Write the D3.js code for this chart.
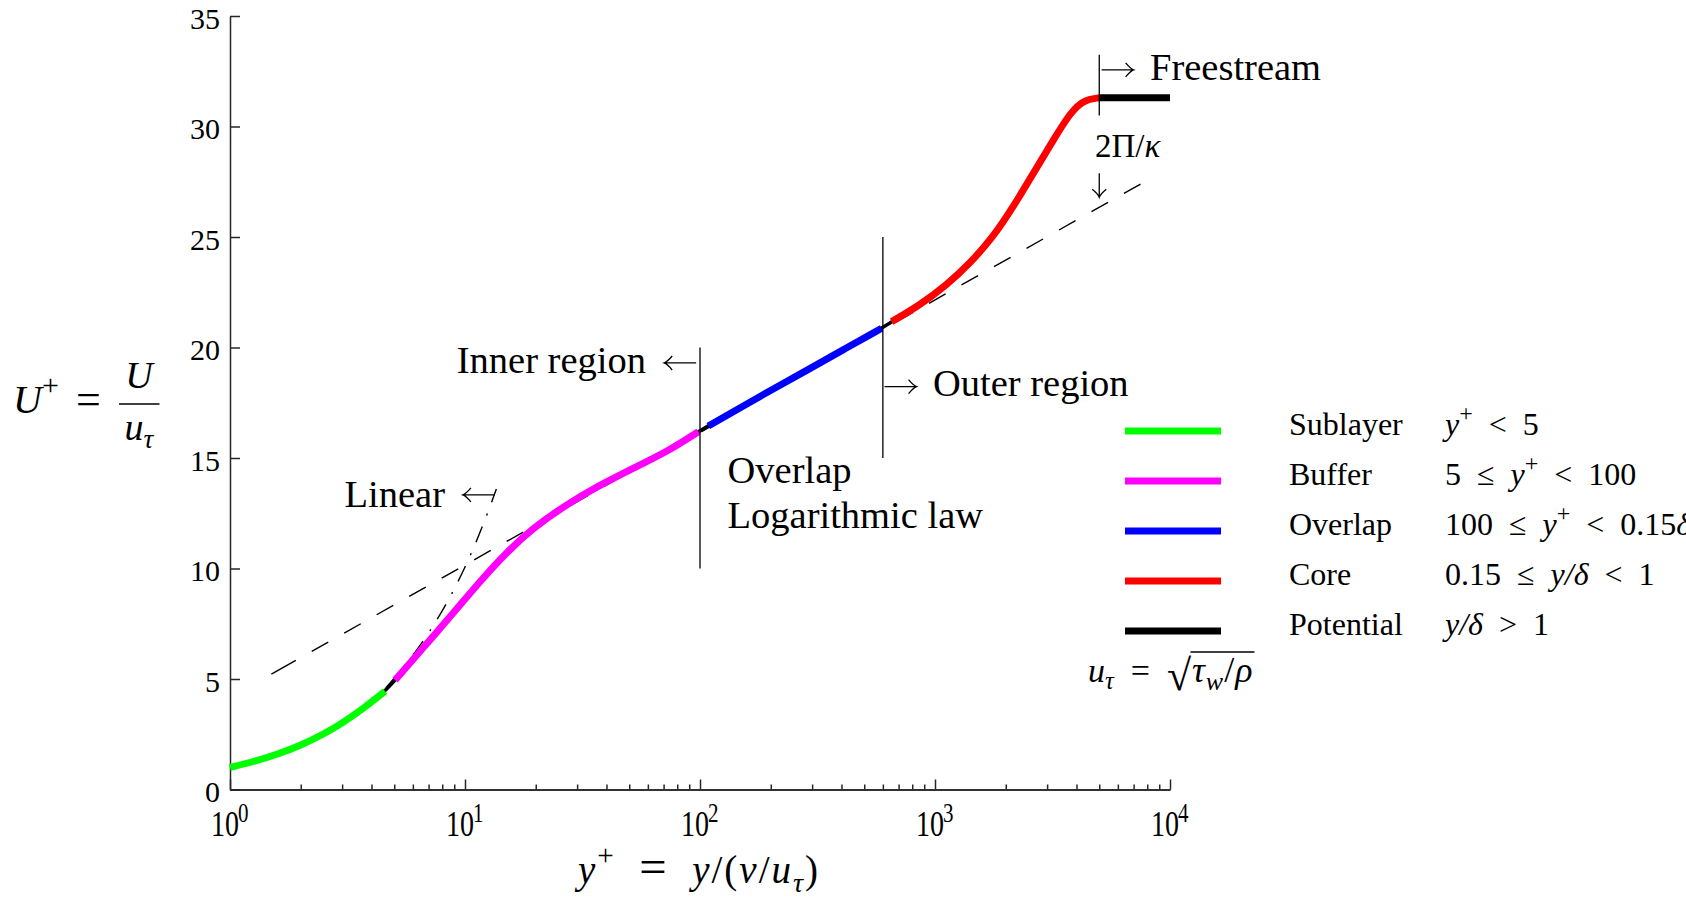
<!DOCTYPE html>
<html>
<head>
<meta charset="utf-8">
<script src="https://cdn.jsdelivr.net/npm/d3@7"></script>
<style>
  html, body { margin: 0; padding: 0; background: #fff; }
  svg { display: block; }
  text { font-family: "Liberation Serif", "Times New Roman", serif; fill: #000; }
</style>
</head>
<body>
<svg id="chart" width="1686" height="897"></svg>
<script>
// Mean velocity profile of a turbulent boundary layer, split by region: [y+, U+]
const sublayer = [[1.0, 1.0], [1.3, 1.3], [1.6, 1.6], [2.0, 2.0], [2.5, 2.5], [3.0, 3.0], [3.7, 3.67], [4.57, 4.45]];
const buffer = [[5.04, 4.95], [6.65, 6.42], [8.92, 7.98], [11.58, 9.42], [15.04, 10.74], [19.54, 11.84],
                [26.2, 12.8], [36.3, 13.7], [53.8, 14.61], [74.5, 15.36], [98.4, 16.19]];
const overlap = [[108.5, 16.45], [148, 17.27], [205, 18.13], [284, 18.96], [407, 19.9], [593, 20.87]];
const core = [[654, 21.17], [863, 21.92], [1121, 22.83], [1409, 23.81], [1771, 25.01], [2154, 26.37],
              [2620, 27.88], [3187, 29.39], [3751, 30.6], [4274, 31.2], [5000, 31.3]];
const potential = [[5000, 31.3], [10000, 31.3]];

// Reference laws
const logLaw = [[1.5, 5.22], [7500, 27.4]];
const linearLaw = [[4.6, 4.6], [6, 6], [8, 8], [10, 10], [12, 12], [13.6, 13.6]];

// Region boundaries: vertical markers at y+ from U+ y0 to y1
const regionLines = [{x: 100, y0: 10, y1: 20}, {x: 600, y0: 15, y1: 25}, {x: 5000, y0: 30.5, y1: 33.25}];

// Tick values
const yTicks = [0, 5, 10, 15, 20, 25, 30, 35];
const xMajorExp = [0, 1, 2, 3, 4];

// Legend
const legendNames = ["Sublayer", "Buffer", "Overlap", "Core", "Potential"];
const legendColors = ["#00ff00", "#ff00ff", "#0000ff", "#ff0000", "#000000"];
const sp = "\u2002"; // wider space around relations
const nb = "\u00a0";
const legendConditions = [
  [["y", "i"], ["+", "sup"], [sp + "<" + sp + "5"]],
  [["5" + sp + "≤" + sp], ["y", "i"], ["+", "sup"], [sp + "<" + sp + "100"]],
  [["100" + sp + "≤" + sp], ["y", "i"], ["+", "sup"], [sp + "<" + sp + "0.15"], ["δ", "i"], ["+", "sup"]],
  [["0.15" + sp + "≤" + sp], ["y/δ", "i"], [sp + "<" + sp + "1"]],
  [["y/δ", "i"], [sp + ">" + sp + "1"]]
];

// Annotation labels (data coordinates of the text anchor)
const annotations = [
  {text: "Inner region", x: 58.9, y: 18.83, anchor: "end"},
  {text: "Outer region", x: 980, y: 17.8, anchor: "start"},
  {text: "Overlap", x: 131, y: 13.86, anchor: "start"},
  {text: "Logarithmic law", x: 131, y: 11.83, anchor: "start"},
  {text: "Linear", x: 8.22, y: 12.8, anchor: "end"},
  {text: "Freestream", x: 8222, y: 32.1, anchor: "start"}
];
// Arrows: tail position in data coordinates, direction, length in px
const arrows = [
  {x: 96.3, y: 19.3, dir: "left", len: 32},
  {x: 610, y: 18.23, dir: "right", len: 32},
  {x: 13.4, y: 13.33, dir: "left", len: 32},
  {x: 5119, y: 32.56, dir: "right", len: 32},
  {x: 5000, y: 27.88, dir: "down", len: 24}
];

const svg = d3.select("#chart");
const x = d3.scaleLog().domain([1, 1e4]).range([230, 1170]);
const y = d3.scaleLinear().domain([0, 35]).range([789.5, 16]);

// helper for math-like text with italic, superscript and subscript parts
function rich(parent, px, py, parts, size, anchor, spacing) {
  const t = parent.append("text").attr("x", px).attr("y", py)
    .attr("font-size", size).attr("text-anchor", anchor || "start");
  if (spacing) t.attr("letter-spacing", spacing);
  let shift = 0;
  parts.forEach(([str, kind]) => {
    kind = kind || "";
    let target = 0, fs = size;
    if (kind === "sup") { target = -0.45 * size; fs = 0.75 * size; }
    if (kind === "isub") { target = 0.22 * size; fs = 0.72 * size; }
    if (kind === "big") { fs = 1.25 * size; }
    const ts = t.append("tspan").text(str).attr("font-size", fs).attr("dy", target - shift);
    if (kind === "i" || kind === "isub") ts.attr("font-style", "italic");
    shift = target;
  });
  return t;
}

// ---- Axes ----
const axisColor = "#262626";
const gy = svg.append("g").attr("transform", "translate(230,0)")
  .call(d3.axisLeft(y).tickValues(yTicks).tickSizeInner(-10).tickSizeOuter(0).tickPadding(10));
gy.selectAll("path,line").attr("stroke", axisColor).attr("stroke-width", 1.5);
gy.selectAll("text").attr("font-size", 30).attr("font-family", "Liberation Serif").attr("fill", "#000").attr("dy", "0.4em");

const minorTicks = [];
for (let e = 0; e < 4; e++) for (let m = 2; m <= 9; m++) minorTicks.push(m * Math.pow(10, e));
const gxMinor = svg.append("g").attr("transform", "translate(0,789.5)")
  .call(d3.axisBottom(x).tickValues(minorTicks).tickSizeInner(-5).tickSizeOuter(0).tickFormat(""));
gxMinor.selectAll("path,line").attr("stroke", axisColor).attr("stroke-width", 1.5);
const gx = svg.append("g").attr("transform", "translate(0,789.5)")
  .call(d3.axisBottom(x).tickValues(xMajorExp.map(e => Math.pow(10, e))).tickSizeInner(-10).tickSizeOuter(0).tickFormat(""));
gx.selectAll("path,line").attr("stroke", axisColor).attr("stroke-width", 1.5);

// x tick labels 10^n
xMajorExp.forEach(e => {
  const cx = x(Math.pow(10, e));
  const g = svg.append("g").attr("transform", `translate(${cx - 19},836) scale(1,1.28)`);
  g.append("text").attr("x", 0).attr("y", 0).attr("font-size", 28).text("10");
  g.append("text").attr("x", 27).attr("y", -11).attr("font-size", 21).text(String(e));
});

// ---- Axis titles ----
const yt = svg.append("g");
rich(yt, 13, 413, [["U", "i"], ["+", "sup"]], 40);
yt.append("text").attr("x", 76).attr("y", 414).attr("font-size", 44).text("=");
rich(yt, 139, 388, [["U", "i"]], 38, "middle");
yt.append("line").attr("x1", 119).attr("x2", 159.5).attr("y1", 404).attr("y2", 404)
  .attr("stroke", "#000").attr("stroke-width", 1.7);
rich(yt, 139, 440, [["u", "i"], ["τ", "isub"]], 38, "middle");

rich(svg, 699, 883, [["y", "i"], ["+", "sup"], [nb + nb], ["=", "big"], [nb + nb], ["y", "i"], ["/("], ["ν", "i"], ["/"], ["u", "i"], ["τ", "isub"], [")"]], 39, "middle", 2);

// ---- Reference laws ----
const line = d3.line().x(d => x(d[0])).y(d => y(d[1]));
const smooth = d3.line().x(d => x(d[0])).y(d => y(d[1])).curve(d3.curveBasis);

// dash pattern with a longer leading dash, then regular dashes
const logDash = [28, 18.3];
for (let i = 0; i < 40; i++) logDash.push(19, 18.3);
svg.append("path").attr("d", line(logLaw)).attr("fill", "none")
  .attr("stroke", "#000").attr("stroke-width", 1.4).attr("stroke-dasharray", logDash.join(","));
svg.append("path").attr("d", smooth(linearLaw)).attr("fill", "none")
  .attr("stroke", "#000").attr("stroke-width", 1.4).attr("stroke-dasharray", "17,12,2,12");

// ---- Velocity profile ----
const fullProfile = [].concat(sublayer, buffer, overlap, core);
svg.append("path").attr("d", smooth(fullProfile)).attr("fill", "none")
  .attr("stroke", "#000").attr("stroke-width", 3.5);

[sublayer, buffer, overlap, core, potential].forEach((seg, i) => {
  svg.append("path").attr("d", smooth(seg)).attr("fill", "none")
    .attr("stroke", legendColors[i]).attr("stroke-width", 7).attr("stroke-linecap", "butt");
});

// ---- Region boundaries ----
regionLines.forEach(r => {
  svg.append("line").attr("x1", x(r.x)).attr("x2", x(r.x)).attr("y1", y(r.y0)).attr("y2", y(r.y1))
    .attr("stroke", "#000").attr("stroke-width", 1.3);
});

// ---- Annotations ----
annotations.forEach(a => {
  svg.append("text").attr("x", x(a.x)).attr("y", y(a.y)).attr("font-size", 38.5)
    .attr("text-anchor", a.anchor).text(a.text);
});
rich(svg, 1095, 156.7, [["2Π/"], ["κ", "i"]], 33);

function arrowPath(tx, ty, dir, len) {
  const h = 8, w = 7;
  if (dir === "left") {
    const hx = tx - len;
    return `M${tx},${ty}H${hx}M${hx + h},${ty - w}Q${hx + 3},${ty - 1} ${hx},${ty}Q${hx + 3},${ty + 1} ${hx + h},${ty + w}`;
  }
  if (dir === "right") {
    const hx = tx + len;
    return `M${tx},${ty}H${hx}M${hx - h},${ty - w}Q${hx - 3},${ty - 1} ${hx},${ty}Q${hx - 3},${ty + 1} ${hx - h},${ty + w}`;
  }
  const hy = ty + len;
  return `M${tx},${ty}V${hy}M${tx - w},${hy - h}Q${tx - 1},${hy - 3} ${tx},${hy}Q${tx + 1},${hy - 3} ${tx + w},${hy - h}`;
}
arrows.forEach(a => {
  svg.append("path").attr("d", arrowPath(x(a.x), y(a.y), a.dir, a.len))
    .attr("fill", "none").attr("stroke", "#000").attr("stroke-width", 1.3);
});

// ---- Legend ----
const lg = svg.append("g");
legendNames.forEach((name, i) => {
  const ly = 431 + i * 50;
  lg.append("line").attr("x1", 1125).attr("x2", 1221).attr("y1", ly).attr("y2", ly)
    .attr("stroke", legendColors[i]).attr("stroke-width", 7);
  lg.append("text").attr("x", 1289).attr("y", ly + 4).attr("font-size", 32).text(name);
  rich(lg, 1445, ly + 4, legendConditions[i], 32);
});

// friction velocity definition
const ft = rich(lg, 1088, 682, [["u", "i"], ["τ", "isub"], [sp + "=" + sp]], 34);
const fb = ft.node().getBBox();
const root = lg.append("text").attr("x", fb.x + fb.width).attr("y", 690).attr("font-size", 44).text("√");
const sb = root.node().getBBox();
const rad = rich(lg, sb.x + sb.width, 682, [["τ", "i"], ["w", "isub"], ["/"], ["ρ", "i"]], 36, "start", 1);
const rb = rad.node().getBBox();
lg.append("line").attr("x1", sb.x + sb.width - 1.5).attr("x2", rb.x + rb.width + 1)
  .attr("y1", sb.y + 1).attr("y2", sb.y + 1).attr("stroke", "#000").attr("stroke-width", 1.4);
</script>
</body>
</html>
